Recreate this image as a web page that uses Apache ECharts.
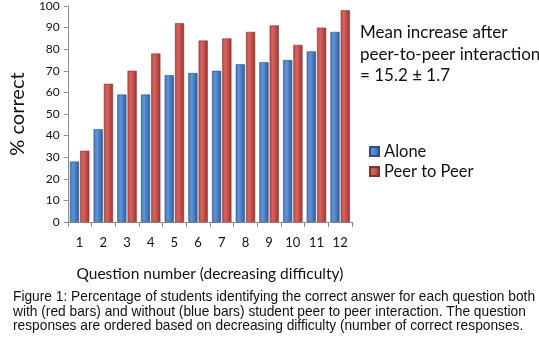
<!DOCTYPE html>
<html>
<head>
<meta charset="utf-8">
<script src="https://cdn.jsdelivr.net/npm/echarts@6/dist/echarts.min.js"></script>
<style>
  html, body { margin: 0; padding: 0; background: #fff; }
  #chart { width: 539px; height: 351px; }
</style>
</head>
<body>
<div id="chart"></div>
<script>
var questions = ["1", "2", "3", "4", "5", "6", "7", "8", "9", "10", "11", "12"];
var alone = [28, 43, 59, 59, 68, 69, 70, 73, 74, 75, 79, 88];
var peer = [33, 64, 70, 78, 92, 84, 85, 88, 91, 82, 90, 98];
var captionLines = [
  "Figure 1: Percentage of students identifying the correct answer for each question both",
  "with (red bars) and without (blue bars) student peer to peer interaction. The question",
  "responses are ordered based on decreasing difficulty (number of correct responses."
];

var myChart = echarts.init(document.getElementById("chart"));

// bars look a bit 3d in the original, fake it with a sideways gradient
function barColor(dark, mid, light) {
  return new echarts.graphic.LinearGradient(0, 0, 1, 0, [
    { offset: 0, color: mid },
    { offset: 0.35, color: light },
    { offset: 1, color: dark },
  ]);
}

var font = "Lato, 'Open Sans', sans-serif";

var option = {
  animation: false,
  grid: { left: 56, right: 187, top: 6, bottom: 129 },
  legend: {
    orient: "vertical",
    left: 369,
    top: 143,
    padding: 0,
    itemWidth: 9,
    itemHeight: 9,
    itemGap: 3,
    icon: "rect",
    textStyle: { fontFamily: font, fontSize: 16.5, color: "#111" },
    data: ["Alone", "Peer to Peer"],
  },
  xAxis: {
    type: "category",
    data: questions,
    name: "Question number (decreasing difficulty)",
    nameLocation: "middle",
    nameGap: 44,
    nameTextStyle: { fontFamily: font, fontSize: 15.5, color: "#111" },
    axisLine: { lineStyle: { color: "#8c8c8c" } },
    axisTick: { show: true, length: 5, lineStyle: { color: "#8c8c8c" } },
    axisLabel: { fontFamily: font, fontSize: 13, color: "#111", margin: 14 },
  },
  yAxis: {
    type: "value",
    min: 0,
    max: 100,
    interval: 10,
    name: "% correct",
    nameLocation: "middle",
    nameGap: 38,
    nameRotate: 90,
    nameTextStyle: { fontFamily: font, fontSize: 20, color: "#111" },
    axisLine: { show: true, lineStyle: { color: "#8c8c8c" } },
    axisTick: { show: true, length: 4, lineStyle: { color: "#8c8c8c" } },
    axisLabel: { fontFamily: font, fontSize: 12, color: "#111", margin: 8 },
    splitLine: { show: false },
  },
  series: [
    {
      name: "Alone",
      type: "bar",
      data: alone,
      barGap: "12%",
      barCategoryGap: "18%",
      itemStyle: {
        color: barColor("#2f5c9a", "#4175ba", "#5e95da"),
        borderColor: "#2c5386",
        borderWidth: 0.6,
      },
    },
    {
      name: "Peer to Peer",
      type: "bar",
      data: peer,
      itemStyle: {
        color: barColor("#9a3532", "#bc4744", "#d9645f"),
        borderColor: "#8b302d",
        borderWidth: 0.6,
      },
    },
  ],
  graphic: [
    {
      type: "text",
      left: 360,
      top: 22,
      style: {
        text: "Mean increase after\npeer-to-peer interaction\n= 15.2 \u00b1 1.7",
        fontFamily: font,
        fontSize: 17,
        lineHeight: 21.5,
        fill: "#111",
      },
    },
    {
      type: "text",
      left: 13,
      top: 290,
      style: {
        text: captionLines.join("\n"),
        fontFamily: "'Liberation Sans', Arial, sans-serif",
        fontSize: 13.75,
        lineHeight: 14.5,
        fill: "#111",
      },
    },
  ],
};

myChart.setOption(option);
</script>
</body>
</html>
